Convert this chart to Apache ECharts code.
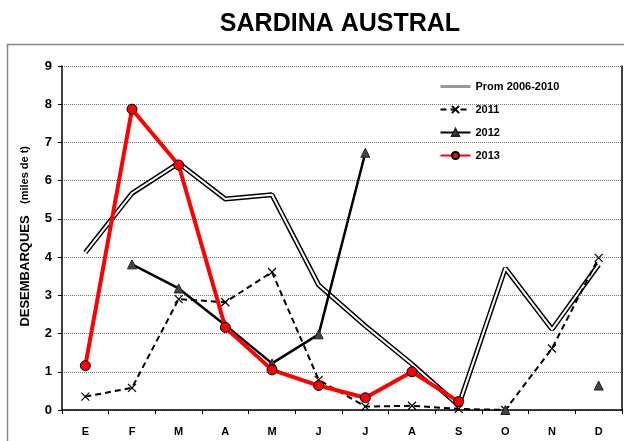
<!DOCTYPE html>
<html>
<head>
<meta charset="utf-8">
<script src="https://cdn.jsdelivr.net/npm/echarts@6/dist/echarts.min.js"></script>
<style>
  html, body { margin: 0; padding: 0; background: #fff; }
  #chart { width: 624px; height: 441px; }
</style>
</head>
<body>
<div id="chart"></div>
<script>
  var months = ['E', 'F', 'M', 'A', 'M', 'J', 'J', 'A', 'S', 'O', 'N', 'D']
  var yTicks = [0, 1, 2, 3, 4, 5, 6, 7, 8, 9]
  var prom = [4.12, 5.67, 6.46, 5.52, 5.63, 3.27, 2.2, 1.2, 0.12, 3.71, 2.11, 3.8]
  var y2011 = [0.35, 0.58, 2.9, 2.82, 3.61, 0.79, 0.09, 0.11, 0.03, 0.0, 1.61, 3.98]
  var y2012 = [null, 3.81, 3.18, 2.22, 1.22, 1.98, 6.73, null, null, 0.0, null, 0.64]
  var y2013 = [1.16, 7.87, 6.41, 2.16, 1.05, 0.64, 0.32, 1.0, 0.22, null, null, null]

  var font = '"Liberation Sans", Arial, sans-serif'
  var chart = echarts.init(document.getElementById('chart'))
  chart.setOption({
    animation: false,
    textStyle: { fontFamily: font },
    title: {
      text: 'SARDINA AUSTRAL',
      left: 335,
      textAlign: 'center',
      top: 7,
      textStyle: { fontSize: 25, fontWeight: 'bold', color: '#000', fontFamily: font }
    },
    grid: { left: 62, right: 2, top: 66, bottom: 31 },
    legend: {
      orient: 'vertical',
      left: 434,
      top: 76,
      itemWidth: 30,
      itemHeight: 9,
      itemGap: 12,
      textStyle: { fontSize: 11, fontWeight: 'bold', color: '#000', fontFamily: font },
      data: [
        { name: 'Prom 2006-2010', lineStyle: { color: '#999', width: 3 }, itemStyle: { opacity: 0 } },
        { name: '2011' },
        { name: '2012' },
        { name: '2013' }
      ]
    },
    graphic: [
      {
        type: 'rect',
        shape: { x: 7.5, y: 44.5, width: 640, height: 420 },
        style: { fill: 'none', stroke: '#888', lineWidth: 1.5 },
        silent: true
      },
      {
        type: 'text',
        x: 25,
        y: 271,
        rotation: Math.PI / 2,
        style: {
          text: 'DESEMBARQUES',
          font: 'bold 13px ' + font,
          fill: '#000',
          align: 'center',
          verticalAlign: 'middle'
        }
      },
      {
        type: 'text',
        x: 25,
        y: 175,
        rotation: Math.PI / 2,
        style: {
          text: '(miles de t)',
          font: 'bold 11px ' + font,
          fill: '#000',
          align: 'center',
          verticalAlign: 'middle'
        }
      }
    ],
    xAxis: {
      type: 'category',
      data: months,
      boundaryGap: true,
      axisLine: { lineStyle: { color: '#000', width: 1.5 } },
      axisTick: { show: true, length: 4, lineStyle: { color: '#000' } },
      axisLabel: { fontSize: 11, fontWeight: 'bold', color: '#000', margin: 16 },
      splitLine: { show: false }
    },
    yAxis: [
      {
        type: 'value',
        min: 0,
        max: 9,
        interval: 1,
        axisLine: { show: true, lineStyle: { color: '#000', width: 1.5 } },
        axisTick: { show: true, length: 4, lineStyle: { color: '#000' } },
        axisLabel: {
          fontSize: 13, fontWeight: 'bold', color: '#000', margin: 10,
          formatter: function (v) { return yTicks.indexOf(v) >= 0 ? String(v) : '' }
        },
        splitLine: { show: true, lineStyle: { color: '#777', type: 'dotted', width: 1 } }
      },
      {
        type: 'value',
        min: 0,
        max: 9,
        interval: 1,
        position: 'right',
        axisLine: { show: true, lineStyle: { color: '#000', width: 1.5 } },
        axisTick: { show: false },
        axisLabel: { show: false },
        splitLine: { show: false }
      }
    ],
    series: [
      {
        name: 'Prom 2006-2010',
        type: 'line',
        data: prom,
        symbol: 'none',
        itemStyle: { color: '#000' },
        lineStyle: { color: '#000', width: 5 },
        z: 2
      },
      {
        name: 'prom-inner',
        type: 'line',
        data: prom,
        symbol: 'none',
        lineStyle: { color: '#fff', width: 2 },
        z: 3
      },
      {
        name: '2011',
        type: 'line',
        data: y2011,
        symbol: 'path://M0,0L10,10M10,0L0,10',
        symbolSize: 8,
        itemStyle: { color: '#000', borderColor: '#000', borderWidth: 1.2 },
        lineStyle: { color: '#000', width: 2, type: [6, 4] },
        z: 4
      },
      {
        name: '2012',
        type: 'line',
        data: y2012,
        symbol: 'triangle',
        symbolSize: 9,
        connectNulls: false,
        itemStyle: { color: '#444', borderColor: '#222', borderWidth: 1 },
        lineStyle: { color: '#000', width: 2.5 },
        z: 5
      },
      {
        name: '2013',
        type: 'line',
        data: y2013,
        symbol: 'circle',
        symbolSize: 10,
        itemStyle: { color: '#ff0000', borderColor: '#000', borderWidth: 1 },
        lineStyle: { color: '#ff0000', width: 4 },
        z: 6
      }
    ]
  })
</script>
</body>
</html>
